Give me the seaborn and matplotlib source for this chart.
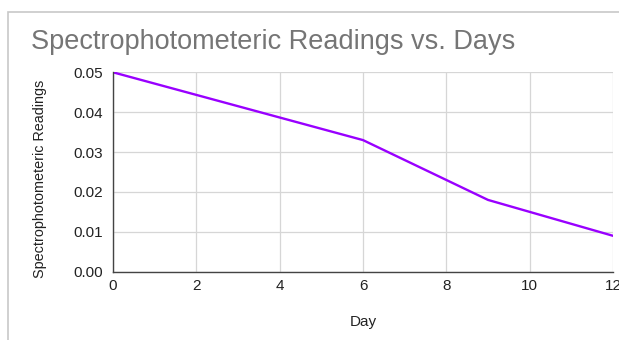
import matplotlib
matplotlib.use("Agg")
import matplotlib.pyplot as plt
import seaborn as sns
import pandas as pd
from matplotlib.patches import Rectangle

days = [0, 6, 9, 12]
readings = [0.050, 0.033, 0.018, 0.009]
x_ticks = [0, 2, 4, 6, 8, 10, 12]
y_ticks = [0.00, 0.01, 0.02, 0.03, 0.04, 0.05]
title = "Spectrophotometeric Readings vs. Days"
x_label = "Day"
y_label = "Spectrophotometeric Readings"

df = pd.DataFrame({"Day": days, "Reading": readings})

sns.set_theme(style="white")
plt.rcParams['font.family'] = ['Liberation Sans', 'DejaVu Sans']

W, H = 619, 340
fig = plt.figure(figsize=(W / 100, H / 100), dpi=100)
fig.patch.set_facecolor("white")

# outer chart frame
fig.patches.append(Rectangle((8 / W, -0.1), 1.2, 1 - 12 / H + 0.1, transform=fig.transFigure,
                             fill=False, edgecolor="#c8c8c8", linewidth=1.2))

ax = fig.add_axes([113 / W, 1 - 271.7 / H, 500 / W, (271.7 - 72.3) / H])
sns.lineplot(data=df, x="Day", y="Reading", ax=ax, color="#9900ff", linewidth=1.7)

ax.set_xlim(0, 12)
ax.set_ylim(0, 0.05)
ax.set_xticks(x_ticks)
ax.set_yticks(y_ticks)
ax.set_xticklabels([str(t) for t in x_ticks])
ax.set_yticklabels([f"{t:.2f}" for t in y_ticks])
ax.grid(True, color="#d6d6d6", linewidth=0.9)
ax.set_axisbelow(True)
for s in ["top", "right"]:
    ax.spines[s].set_visible(False)
for s in ["left", "bottom"]:
    ax.spines[s].set_color("#444444")
    ax.spines[s].set_linewidth(1.0)
ax.tick_params(axis="both", length=0, labelsize=11, colors="#222222")
ax.tick_params(axis="y", pad=7)
ax.tick_params(axis="x", pad=5)
ax.set_xlabel("")
ax.set_ylabel("")

fig.text(31 / W, 1 - 42 / H, title, fontsize=19.5, color="#757575", ha="left", va="center")
fig.text(363 / W, 1 - 322 / H, x_label, fontsize=11, color="#222222", ha="center", va="center")
fig.text(40 / W, 1 - 178.5 / H, y_label, fontsize=10.4, color="#222222", ha="center", va="center",
         rotation=90)

fig.savefig("out.png", dpi=100)
